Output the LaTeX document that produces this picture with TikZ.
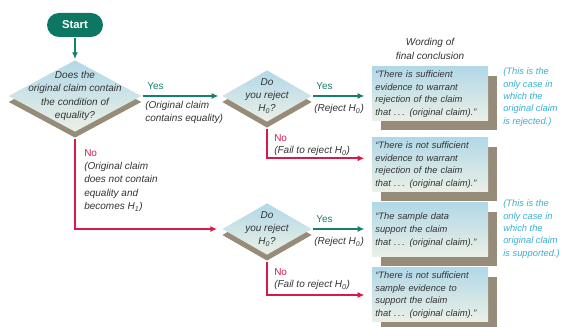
\documentclass[tikz,border=0pt]{standalone}
\usepackage{fontspec}
\setmainfont{Liberation Sans}
\usetikzlibrary{shapes.geometric,arrows.meta,shadows}
\definecolor{startgreen}{HTML}{0E7763}
\definecolor{yesgreen}{HTML}{16806D}
\definecolor{nored}{HTML}{D8194B}
\definecolor{notecyan}{HTML}{3AAFD2}
\definecolor{shadowbrown}{HTML}{978C7A}
\definecolor{paleblue}{HTML}{B2D8E7}
\definecolor{palegreen}{HTML}{EBF0E6}
\definecolor{inkgray}{HTML}{333333}
\tikzset{
  decision/.style={diamond,inner sep=0pt,top color=paleblue,bottom color=palegreen,
    drop shadow={shadow xshift=0pt,shadow yshift=-4.5pt,fill=shadowbrown,opacity=1}},
  verdict/.style={rectangle,inner xsep=2.5pt,inner ysep=1pt,text width=82pt,minimum height=40.5pt,align=left,
    font=\itshape\fontsize{7}{9.6}\selectfont,
    top color=paleblue,bottom color=palegreen,
    drop shadow={shadow xshift=7pt,shadow yshift=-7pt,fill=shadowbrown,opacity=1}},
  yesline/.style={draw=yesgreen,-{Latex[length=5pt,width=4.5pt]}},
  noline/.style={draw=nored,-{Latex[length=5pt,width=4.5pt]}},
  yeslabel/.style={text=yesgreen,font=\fontsize{7.5}{9}\selectfont,anchor=west},
  nolabel/.style={text=nored,font=\fontsize{7.5}{9}\selectfont,anchor=west},
  note/.style={text=notecyan,align=left,anchor=west,font=\itshape\fontsize{7}{9.3}\selectfont}
}
\begin{document}
\begin{tikzpicture}[x=0.75pt,y=-0.75pt,line width=1.4pt,
  every node/.style={font=\itshape\fontsize{7.5}{10}\selectfont,inner sep=1pt,text=inkgray}]
\useasboundingbox (0,0) rectangle (561,327);
% decisions
\node[fill=startgreen,rounded corners=9pt,minimum width=42pt,minimum height=18pt,
  text=white,font=\bfseries\fontsize{8.5}{10}\selectfont] (start) at (75,25) {Start};
\node[decision,minimum width=100pt,minimum height=54pt] (d1) at (75,96) {};
\node[align=center] (d1t) at (75,96) {Does the\\original claim contain\\the condition of\\equality?};
\node[decision,minimum width=67.5pt,minimum height=39pt] (d2) at (267,96) {};
\node[align=center] (d2t) at (267,96) {Do\\you reject\\H\textsubscript{0}?};
\node[decision,minimum width=67.5pt,minimum height=39pt] (d3) at (267,229) {};
\node[align=center] (d3t) at (267,229) {Do\\you reject\\H\textsubscript{0}?};
% conclusions
\node[align=center] (head) at (430,49) {Wording of\\final conclusion};
\node[verdict] (b1) at (430,94) {“There is sufficient\\evidence to warrant\\rejection of the claim\\that .\,.\,. (original claim).”};
\node[verdict] (b2) at (430,165) {“There is not sufficient\\evidence to warrant\\rejection of the claim\\that .\,.\,. (original claim).”};
\node[verdict] (b3) at (430,230) {“The sample data\\support the claim\\that .\,.\,. (original claim).”};
\node[verdict] (b4) at (430,295) {“There is not sufficient\\sample evidence to\\support the claim\\that .\,.\,. (original claim).”};
\node[note] (n1) at (501,97) {(This is the\\only case in\\which the\\original claim\\is rejected.)};
\node[note] (n2) at (501,229) {(This is the\\only case in\\which the\\original claim\\is supported.)};
% connectors
\draw[yesline] (start) -- (d1);
\draw[yesline,shorten >=2pt] (d1.east) -- (d2.west);
\draw[yesline,shorten >=5pt] (d2.east) -- (d2.east -| b1.west);
\draw[noline,shorten >=5pt] ([yshift=-4.5pt]d2.south) |- ([yshift=5pt]b2.west);
\draw[yesline,shorten >=5pt] (d3.east) -- (d3.east -| b3.west);
\draw[noline,shorten >=5pt] ([yshift=-4.5pt]d3.south) |- (b4.west);
\draw[noline,shorten >=3pt] ([yshift=-4.5pt]d1.south) |- (d3.west);
% labels
\node[yeslabel] (y1) at (145,86) {Yes};
\node[anchor=north west,align=left] (y1t) at (143,99) {(Original claim\\contains equality)};
\node[yeslabel] (y2) at (314,86) {Yes};
\node[anchor=west] (y2t) at (312,109) {(Reject H\textsubscript{0})};
\node[nolabel] (no2) at (272,138) {No};
\node[anchor=west] (no2t) at (272,151) {(Fail to reject H\textsubscript{0})};
\node[yeslabel] (y3) at (314,219) {Yes};
\node[anchor=west] (y3t) at (312,242) {(Reject H\textsubscript{0})};
\node[nolabel] (no3) at (272,272) {No};
\node[anchor=west] (no3t) at (272,285) {(Fail to reject H\textsubscript{0})};
\node[nolabel] (no1) at (82,153) {No};
\node[anchor=north west,align=left] (no1t) at (82,160) {(Original claim\\does not contain\\equality and\\becomes H\textsubscript{1})};
\end{tikzpicture}
\end{document}
